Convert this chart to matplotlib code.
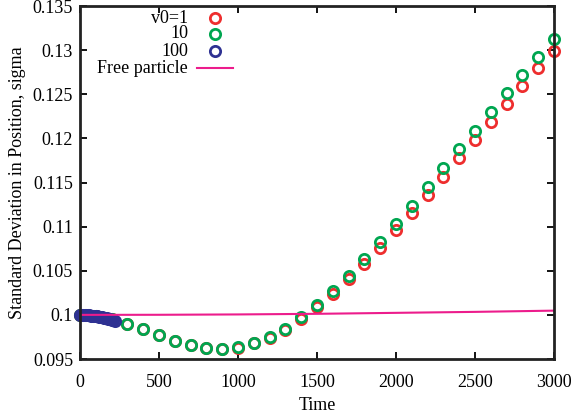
import matplotlib
matplotlib.use("Agg")
import matplotlib.pyplot as plt
from matplotlib.lines import Line2D

plt.rcParams['font.family'] = ['Liberation Serif', 'DejaVu Serif']

# ---- data ----
t_coarse = [0, 100, 200, 300, 400, 500, 600, 700, 800, 900, 1000,
            1100, 1200, 1300, 1400, 1500, 1600, 1700, 1800, 1900, 2000,
            2100, 2200, 2300, 2400, 2500, 2600, 2700, 2800, 2900, 3000]
sigma_v1 = [0.1, 0.09985, 0.0995, 0.09895, 0.09835, 0.0977, 0.09706, 0.09657,
            0.09626, 0.09611, 0.09628, 0.09676, 0.09738, 0.09823, 0.09955,
            0.10086, 0.10237, 0.10404, 0.10577, 0.10762, 0.10959, 0.11159,
            0.11363, 0.11567, 0.1178, 0.11983, 0.12191, 0.12392, 0.12596,
            0.12797, 0.12985]
sigma_v10 = [0.1, 0.09985, 0.0995, 0.09897, 0.09837, 0.09772, 0.09708, 0.09659,
             0.09628, 0.09613, 0.09633, 0.09685, 0.09753, 0.0984, 0.09973,
             0.10116, 0.10271, 0.10445, 0.10634, 0.10827, 0.11031, 0.11235,
             0.11447, 0.11663, 0.11878, 0.12089, 0.12301, 0.12513, 0.12717,
             0.12921, 0.13125]
t_fine = [0, 10, 20, 30, 40, 50, 60, 70, 80, 90, 100, 110, 120, 130, 140,
          150, 160, 170, 180, 190, 200, 210, 220]
sigma_v100 = [0.1, 0.1, 0.09999, 0.09998, 0.09997, 0.09996, 0.09994, 0.09992,
              0.0999, 0.09988, 0.09985, 0.09982, 0.09979, 0.09976, 0.09972,
              0.09968, 0.09964, 0.0996, 0.09955, 0.0995, 0.09945, 0.0994, 0.09935]
t_free = [0, 500, 1000, 1500, 2000, 2500, 3000]
sigma_free = [0.1, 0.10001, 0.10005, 0.10012, 0.10023, 0.10034, 0.10048]

labels = ['v0=1', '10', '100', 'Free particle']
xticks = [0, 500, 1000, 1500, 2000, 2500, 3000]
yticks = [0.095, 0.1, 0.105, 0.11, 0.115, 0.12, 0.125, 0.13, 0.135]
ytick_labels = ['0.095', '0.1', '0.105', '0.11', '0.115', '0.12', '0.125', '0.13', '0.135']

RED = '#ee2e2e'
GREEN = '#00a650'
BLUE = '#2e3192'
PINK = '#ec1c8c'
FS = 13

fig = plt.figure(figsize=(5.75, 4.19), dpi=100)
ax = fig.add_axes([80/575, 1-359/419, 474/575, 353/419])

mk = dict(marker='o', linestyle='none', markerfacecolor='none',
          markersize=7.4, markeredgewidth=2.0, clip_on=False)
ax.plot(t_coarse, sigma_v1, markeredgecolor=RED, **mk)
ax.plot(t_coarse, sigma_v10, markeredgecolor=GREEN, **mk)
ax.plot(t_fine, sigma_v100, markeredgecolor=BLUE, **mk)
ax.plot(t_free, sigma_free, color=PINK, linewidth=1.5)

ax.set_xlim(0, 3000)
ax.set_ylim(0.095, 0.135)
ax.set_xticks(xticks)
ax.set_xticklabels([str(v) for v in xticks])
ax.set_yticks(yticks)
ax.set_yticklabels(ytick_labels)
ax.tick_params(direction='in', length=5, width=1.3, top=True, right=True,
               labelsize=FS, colors='black')
ax.tick_params(axis='x', pad=11)
ax.tick_params(axis='y', pad=5)
for s in ax.spines.values():
    s.set_linewidth(2)
    s.set_color('#222222')

ax.set_xlabel('Time', fontsize=FS, labelpad=4)
ax.set_ylabel('Standard Deviation in Position, sigma', fontsize=FS, labelpad=5)

# gnuplot-style key: right-aligned text, symbol to the right
rows = [0.966, 0.921, 0.8725, 0.824]
colors = [RED, GREEN, BLUE]
for i, lab in enumerate(labels):
    ax.text(0.228, rows[i], lab, transform=ax.transAxes, ha='right', va='center',
            fontsize=FS)
for i, c in enumerate(colors):
    ax.add_line(Line2D([0.285], [rows[i]], transform=ax.transAxes, markeredgecolor=c, **mk))
ax.add_line(Line2D([0.247, 0.323], [rows[3], rows[3]], transform=ax.transAxes,
                   color=PINK, linewidth=1.5))

fig.savefig('out.png', dpi=100)
